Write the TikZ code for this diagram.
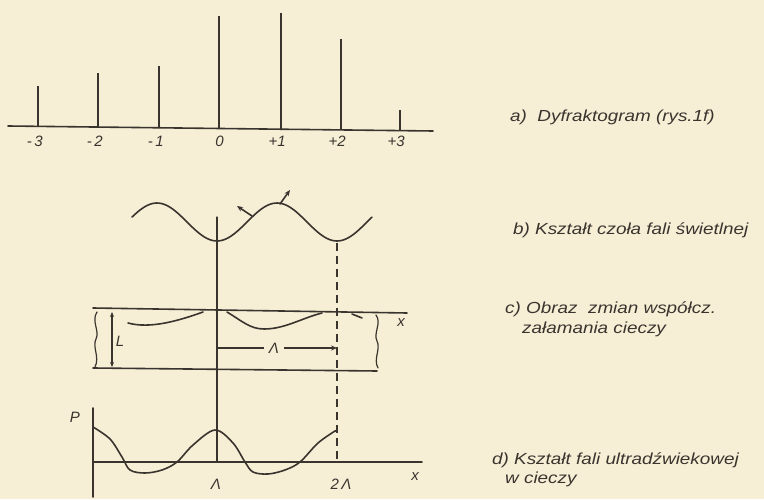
\documentclass[tikz,border=0pt]{standalone}
\usepackage{fontspec}
\setmainfont{Liberation Sans}
\newfontfamily\wide{Liberation Sans}[FakeStretch=1.18]
\usetikzlibrary{arrows.meta}
\definecolor{paper}{RGB}{247,238,214}
\definecolor{ink}{RGB}{58,52,46}
\begin{document}
\begin{tikzpicture}[x=1pt,y=1pt,
  ink/.style={draw=ink,line width=1.6pt,line cap=round},
  spec/.style={draw=ink,line width=1.8pt},
  num/.style={text=ink,font=\itshape\fontsize{15}{15}\selectfont,inner sep=0pt},
  lab/.style={text=ink,font=\wide\itshape\fontsize{16}{18}\selectfont,inner sep=0pt,anchor=west,align=left},
  dashline/.style={draw=ink,line width=1.2pt,dash pattern=on 8pt off 5pt},
  arr/.style={-{Stealth[length=6pt,width=5pt]}}]
\fill[paper] (0,0) rectangle (764,499);
\useasboundingbox (0,0) rectangle (764,499);

% ---------- a) diffractogram ----------
\coordinate (bl) at (8,373);
\coordinate (br) at (433,368);
\draw[ink] (bl) -- (br);
\foreach \n/\x/\t/\b/\txt in {m3/38/413/372.6/{-\,3},m2/98/426/372/{-\,2},m1/159/433/371.2/{-\,1},z/219/483/370.5/0,p1/281/486/369.8/{+1},p2/341/460/369.1/{+2},p3/400/389/368.4/{+3}}{
  \coordinate (t\n) at (\x,\t);
  \coordinate (b\n) at (\x,\b);
  \draw[spec] (t\n) -- (b\n);
  \node[num,anchor=base east] (l\n) at (\x+5,352) {\txt};
}

% ---------- b) wave front ----------
\draw[ink,smooth] plot[domain=132:372,samples=90] (\x,{277-19*cos(3*(\x-217))});
\coordinate (na) at (252,283);
\coordinate (nb) at (237,293);
\coordinate (nc) at (280,295);
\coordinate (nd) at (290,309);
\draw[ink,arr] (na) -- (nb);
\draw[ink,arr] (nc) -- (nd);

% vertical axis and dashed line
\coordinate (vtop) at (217,282);
\coordinate (vbot) at (217,37);
\draw[ink,line width=1.2pt] (vtop) -- (vbot);
\coordinate (dtop) at (337,256);
\coordinate (dbot) at (337,37);
\draw[dashline] (dtop) -- (dbot);

% ---------- c) refractive index ----------
\coordinate (ctl) at (93,191);
\coordinate (ctr) at (407,186);
\coordinate (cbl) at (93,131);
\coordinate (cbr) at (377,128);
\draw[ink] (ctl) -- (ctr);
\draw[ink] (cbl) -- (cbr);
\draw[ink,line width=1.2pt] (97,187) .. controls (91,178) and (100,168) .. (96,160)
   .. controls (92,152) and (100,142) .. (95,132);
\draw[ink,line width=1.2pt] (376,184) .. controls (382,176) and (373,166) .. (377,158)
   .. controls (381,150) and (373,140) .. (378,131);
\node[num] (cx) at (401,176) {x};
\coordinate (la) at (112,187);
\coordinate (lb) at (112,132);
\draw[ink,line width=1.2pt,{Stealth[length=5pt,width=4pt]}-{Stealth[length=5pt,width=4pt]}] (la) -- (lb);
\node[num] (L) at (120,158) {L};
\draw[ink] (128,176) .. controls (150,170) and (178,178) .. (203,187);
\draw[ink] (227,187) .. controls (242,178) and (250,170) .. (264,170)
   .. controls (285,170) and (302,181) .. (322,186);
\draw[ink] (352,185) -- (362,181);
\coordinate (ls) at (217,151);
\coordinate (le) at (337,151);
\draw[ink,line width=1.2pt,arr] (ls) -- (le);
\node[num,fill=paper,inner sep=5pt] (lam) at (274,151) {Λ};

% ---------- d) ultrasonic wave ----------
\coordinate (p0) at (93,37);
\coordinate (ptop) at (93,91);
\coordinate (pbot) at (93,2);
\coordinate (xend) at (422,37);
\draw[ink,line width=1.8pt] (ptop) -- (pbot);
\draw[ink] (p0) -- (xend);
\node[num] (P) at (75,82) {P};
\node[num] (dx) at (415,22) {x};
\node[num] (d1) at (216,15) {Λ};
\node[num] (d2) at (341,15) {2\,Λ};
\draw[ink] plot[smooth,tension=0.55] coordinates {(93,72) (110,60) (122,42) (130,29) (145,26) (162,29) (177,37) (193,54) (215,69) (233,56) (245,37) (253,27) (268,25) (285,29) (300,37) (318,56) (335,68)};
\draw[ink] (335,68) -- (337,68);

% ---------- texts ----------
\node[lab] (ta) at (510,382) {a)\ \ Dyfraktogram (rys.1f)};
\node[lab] (tb) at (513,269) {b) Kształt czoła fali świetlnej};
\node[lab] (tc) at (505,190) {c) Obraz\ \ zmian współcz.};
\node[lab] (tc2) at (522,170) {załamania cieczy};
\node[lab] (td) at (492,39) {d) Kształt fali ultradźwiekowej};
\node[lab] (td2) at (505,20) {w cieczy};
\end{tikzpicture}
\end{document}
